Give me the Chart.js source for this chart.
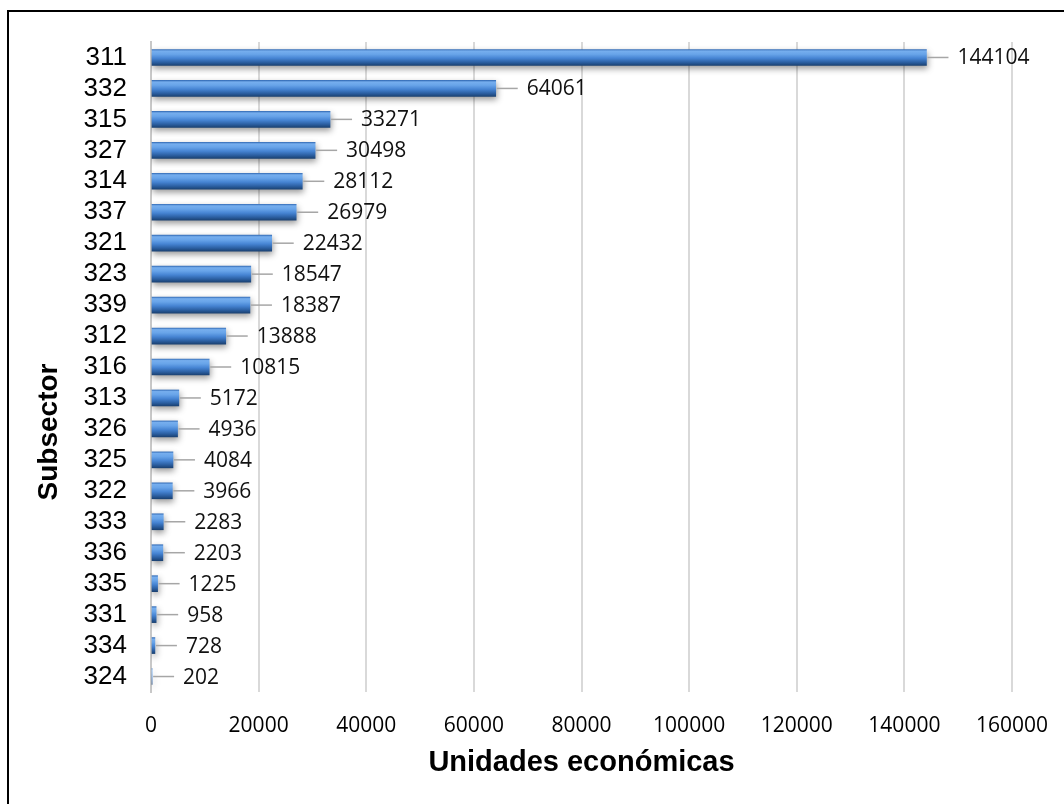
<!DOCTYPE html>
<html lang="es">
<head>
    <meta charset="UTF-8">
    <title>Unidades económicas por subsector</title>
    <script src="https://cdn.jsdelivr.net/npm/chart.js"></script>
    <style>
        body { margin: 0; overflow: hidden; background: #fff; }
        #frame { position: absolute; left: 7px; top: 10px; width: 1100px; height: 850px;
                 border-left: 2px solid #000; border-top: 2px solid #000; }
        #wrap { position: absolute; left: 0; top: 0; width: 1064px; height: 804px; }
    </style>
</head>
<body>
    <div id="frame"></div>
    <div id="wrap"><canvas id="subsectorChart"></canvas></div>
    <script>
        // subsectores, de mayor a menor
        const subsectores = ['311', '332', '315', '327', '314', '337', '321', '323', '339', '312', '316',
                             '313', '326', '325', '322', '333', '336', '335', '331', '334', '324'];
        const unidades = [144104, 64061, 33271, 30498, 28112, 26979, 22432, 18547, 18387, 13888, 10815,
                          5172, 4936, 4084, 3966, 2283, 2203, 1225, 958, 728, 202];
        const xTicks = [0, 20000, 40000, 60000, 80000, 100000, 120000, 140000, 160000];

        const ctx = document.getElementById('subsectorChart').getContext('2d');

        // degradado vertical para cada barra (efecto cilindro)
        function barGradient(c) {
            const chart = c.chart;
            const y = chart.scales.y;
            if (!y || c.dataIndex === undefined) return '#4a88d6';
            const cy = y.getPixelForValue(c.dataIndex);
            if (!isFinite(cy)) return '#4a88d6';
            const g = chart.ctx.createLinearGradient(0, cy - 8, 0, cy + 8);
            g.addColorStop(0, '#3a72bb');
            g.addColorStop(0.1, '#76aeee');
            g.addColorStop(0.3, '#68a4e9');
            g.addColorStop(0.55, '#4684d3');
            g.addColorStop(0.8, '#2c60a3');
            g.addColorStop(1, '#1b4273');
            return g;
        }

        const barExtras = {
            id: 'barExtras',
            beforeDatasetsDraw(chart) {
                const c = chart.ctx;
                c.save();
                c.shadowColor = 'rgba(0,0,0,0.4)';
                c.shadowBlur = 6;
                c.shadowOffsetX = 1;
                c.shadowOffsetY = 3;
            },
            afterDatasetsDraw(chart) {
                const c = chart.ctx;
                c.restore();
                const meta = chart.getDatasetMeta(0);
                c.save();
                c.font = '21px "Open Sans"';
                c.textBaseline = 'middle';
                c.textAlign = 'left';
                meta.data.forEach((bar, i) => {
                    const x = bar.x, y = bar.y;
                    // línea guía
                    c.strokeStyle = '#a6a6a6';
                    c.lineWidth = 1.5;
                    c.beginPath();
                    c.moveTo(x + 1, y);
                    c.lineTo(x + 22, y);
                    c.stroke();
                    c.fillStyle = '#111';
                    c.fillText(String(unidades[i]), x + 31, y + 1);
                });
                // título del eje Y
                const a = chart.chartArea;
                c.translate(49, a.top + (a.bottom - a.top) * 0.6);
                c.rotate(-Math.PI / 2);
                c.textAlign = 'center';
                c.fillStyle = '#000';
                c.font = 'bold 28px "Liberation Sans"';
                c.fillText('Subsector', 0, 0);
                c.restore();
            }
        };

        new Chart(ctx, {
            type: 'bar',
            data: {
                labels: subsectores,
                datasets: [{
                    label: 'Unidades económicas',
                    data: unidades,
                    backgroundColor: barGradient,
                    borderWidth: 0,
                    barThickness: 16
                }]
            },
            options: {
                indexAxis: 'y',
                responsive: true,
                maintainAspectRatio: false,
                animation: false,
                layout: { padding: { top: 42, right: 52, left: 0, bottom: 0 } },
                plugins: { legend: { display: false }, tooltip: { enabled: false } },
                scales: {
                    x: {
                        min: 0,
                        max: 160000,
                        afterBuildTicks: scale => { scale.ticks = xTicks.map(v => ({ value: v })); },
                        afterFit: scale => {
                            scale.height = 112;
                            scale.paddingLeft = 0;
                            scale.paddingRight = 0;
                        },
                        grid: { color: '#d9d9d9', lineWidth: 2, drawTicks: false },
                        border: { display: false },
                        ticks: {
                            padding: 21,
                            color: '#000',
                            font: { family: '"Open Sans"', size: 21 },
                            maxRotation: 0,
                            autoSkip: false,
                            callback: v => String(v)
                        },
                        title: {
                            display: true,
                            text: 'Unidades económicas',
                            color: '#000',
                            font: { family: '"Liberation Sans"', size: 29, weight: 'bold' },
                            padding: { top: 11, bottom: 24 }
                        }
                    },
                    y: {
                        afterFit: scale => { scale.width = 151; },
                        grid: { display: false, drawTicks: false },
                        border: { display: true, color: '#c8c8c8', width: 2 },
                        ticks: {
                            padding: 24,
                            color: '#000',
                            autoSkip: false,
                            font: { family: '"Liberation Sans"', size: 26 }
                        }
                    }
                }
            },
            plugins: [barExtras]
        });
    </script>
</body>
</html>
